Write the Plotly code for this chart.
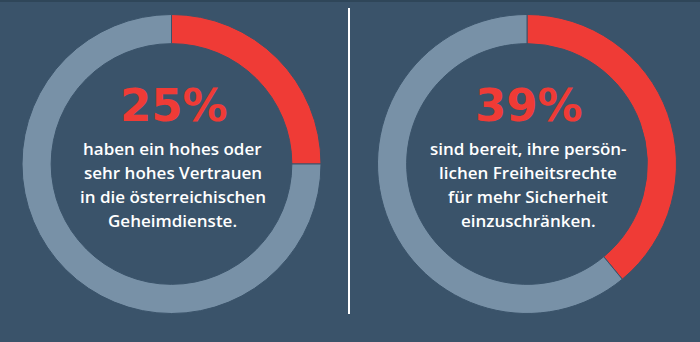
import plotly.graph_objects as go

W, H = 700, 342
labels = ["Ja", "Rest"]
left_values = [25, 75]
right_values = [39, 61]
percent_labels = ["25%", "39%"]
left_text = ["haben ein hohes oder", "sehr hohes Vertrauen", "in die österreichischen", "Geheimdienste."]
right_text = ["sind bereit, ihre persön-", "lichen Freiheitsrechte", "für mehr Sicherheit", "einzuschränken."]

BG = "#3a536a"
RED = "#ef3b36"
GREY = "#7891a7"

fig = go.Figure()

def px_x(v):
    return v / W

def px_y(v):
    return 1 - v / H

centers = [(171.5, 164), (527, 164)]
R = 149.5
for (cx, cy), vals in zip(centers, [left_values, right_values]):
    fig.add_trace(go.Pie(
        labels=labels, values=vals, hole=0.805, sort=False, direction="clockwise",
        rotation=0, textinfo="none", hoverinfo="skip", showlegend=False,
        marker=dict(colors=[RED, GREY], line=dict(color=BG, width=1)),
        domain=dict(x=[px_x(cx - R), px_x(cx + R)], y=[px_y(cy + R), px_y(cy - R)]),
    ))

annotations = []
for (cx, cy), pct, lines in zip(centers, percent_labels, [left_text, right_text]):
    annotations.append(dict(
        x=px_x(cx + 2), y=px_y(106), xref="paper", yref="paper", text=pct, showarrow=False,
        xanchor="center", yanchor="middle",
        font=dict(family="DejaVu Sans", size=45, color=RED, weight="bold"),
    ))
    for i, ln in enumerate(lines):
        annotations.append(dict(
            x=px_x(cx + 1), y=px_y(148 + 24 * i), xref="paper", yref="paper", text=ln,
            showarrow=False, xanchor="center", yanchor="middle",
            font=dict(family="Open Sans", size=17, color="white", weight=600),
        ))

fig.update_layout(
    width=W, height=H, margin=dict(l=0, r=0, t=0, b=0),
    paper_bgcolor=BG, plot_bgcolor=BG,
    annotations=annotations,
    shapes=[
        dict(type="line", xref="paper", yref="paper", x0=px_x(349), x1=px_x(349),
             y0=px_y(8), y1=px_y(314), line=dict(color="white", width=2)),
        dict(type="rect", xref="paper", yref="paper", x0=0, x1=1, y0=px_y(2), y1=1,
             line=dict(width=0), fillcolor="#2f4659"),
    ],
)

fig.write_html("out.html")
